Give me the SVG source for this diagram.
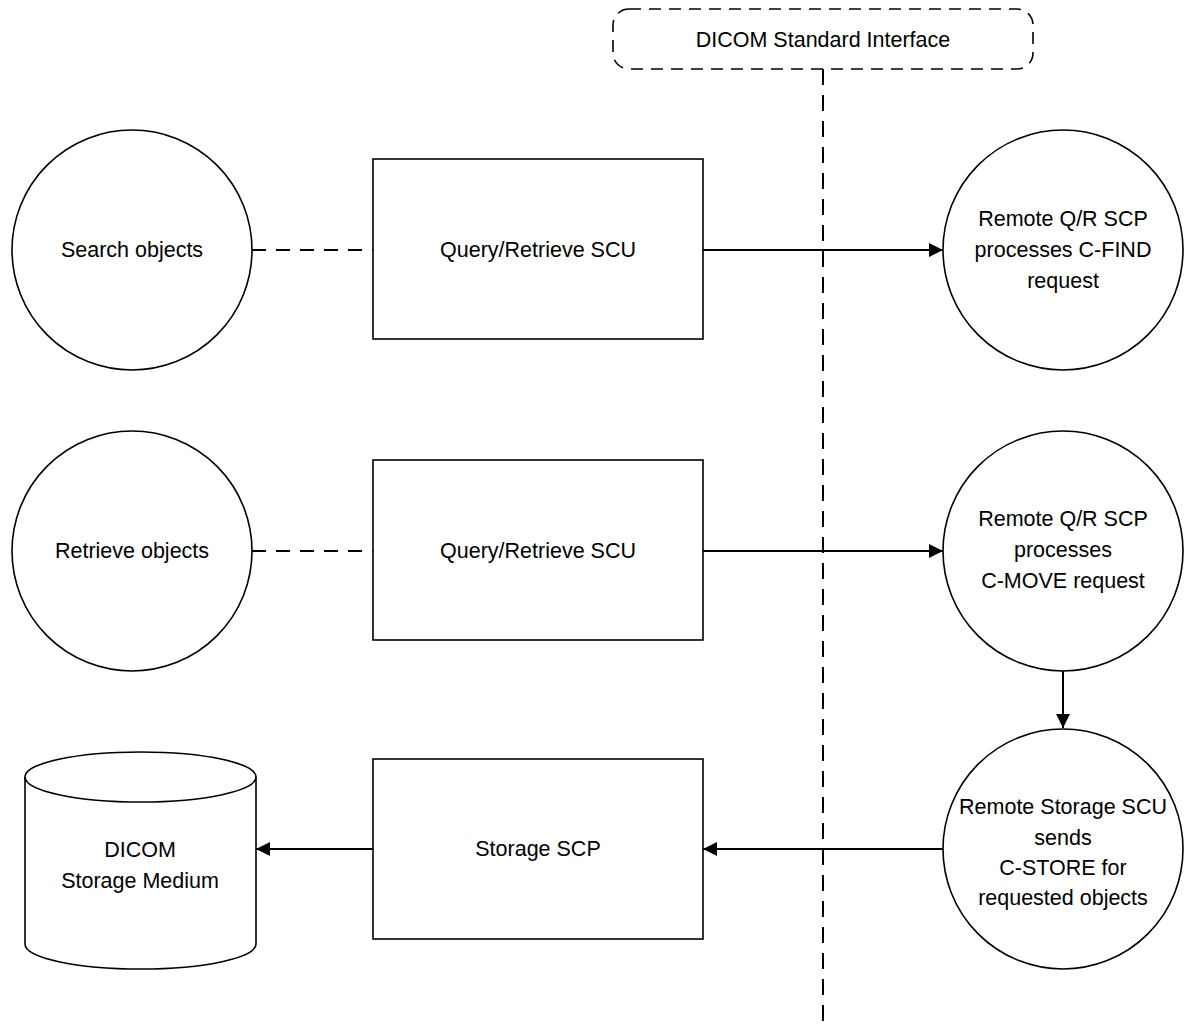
<svg xmlns="http://www.w3.org/2000/svg" width="1184" height="1027" viewBox="0 0 1184 1027">
<defs>
<marker id="arr" viewBox="0 0 10 10" refX="10" refY="5" markerWidth="7" markerHeight="7" markerUnits="strokeWidth" orient="auto">
<path d="M0,0 L10,5 L0,10 Z" fill="#000"/>
</marker>
<style>
.shape{fill:#fff;stroke:#000;stroke-width:1.6}
.t{font-family:"Liberation Sans",Arial,sans-serif;font-size:21.5px;fill:#000;text-anchor:middle;dominant-baseline:central}
.dash{fill:none;stroke:#000;stroke-width:2;stroke-dasharray:14,10}
.conn{fill:none;stroke:#000;stroke-width:2}
</style>
</defs>
<rect width="1184" height="1027" fill="#fff"/>
<g id="interface">
<rect x="613" y="9" width="420" height="60" rx="16" ry="16" fill="#fff" stroke="#000" stroke-width="1.6" stroke-dasharray="12,8"/>
<text class="t" x="823" y="40">DICOM Standard Interface</text>
</g>
<g id="connectors">
<line x1="823" y1="69" x2="823" y2="1027" stroke="#000" stroke-width="2" stroke-dasharray="16,10"/>
<line class="dash" x1="252" y1="250" x2="373" y2="250"/>
<line class="dash" x1="252" y1="551" x2="373" y2="551"/>
<line class="conn" x1="703" y1="250" x2="943" y2="250" marker-end="url(#arr)"/>
<line class="conn" x1="703" y1="551" x2="943" y2="551" marker-end="url(#arr)"/>
<line class="conn" x1="1063" y1="670" x2="1063" y2="728" marker-end="url(#arr)"/>
<line class="conn" x1="943" y1="849" x2="703" y2="849" marker-end="url(#arr)"/>
<line class="conn" x1="373" y1="849" x2="256" y2="849" marker-end="url(#arr)"/>
</g>
<g id="search">
<circle class="shape" cx="132" cy="250" r="120"/>
<text class="t" x="132" y="250">Search objects</text>
</g>
<g id="qr1">
<rect class="shape" x="373" y="159" width="330" height="180"/>
<text class="t" x="538" y="250">Query/Retrieve SCU</text>
</g>
<g id="cfind">
<circle class="shape" cx="1063" cy="250" r="120"/>
<text class="t" x="1063" y="219">Remote Q/R SCP</text>
<text class="t" x="1063" y="250">processes C-FIND</text>
<text class="t" x="1063" y="281">request</text>
</g>
<g id="retrieve">
<circle class="shape" cx="132" cy="551" r="120"/>
<text class="t" x="132" y="551">Retrieve objects</text>
</g>
<g id="qr2">
<rect class="shape" x="373" y="460" width="330" height="180"/>
<text class="t" x="538" y="551">Query/Retrieve SCU</text>
</g>
<g id="cmove">
<circle class="shape" cx="1063" cy="551" r="120"/>
<text class="t" x="1063" y="519">Remote Q/R SCP</text>
<text class="t" x="1063" y="550">processes</text>
<text class="t" x="1063" y="581">C-MOVE request</text>
</g>
<g id="cstore">
<circle class="shape" cx="1063" cy="849" r="120"/>
<text class="t" x="1063" y="807">Remote Storage SCU</text>
<text class="t" x="1063" y="838">sends</text>
<text class="t" x="1063" y="868">C-STORE for</text>
<text class="t" x="1063" y="898">requested objects</text>
</g>
<g id="storage">
<rect class="shape" x="373" y="759" width="330" height="180"/>
<text class="t" x="538" y="849">Storage SCP</text>
</g>
<g id="medium">
<path class="shape" d="M25,777 L25,944 A115.5,25 0 0 0 256,944 L256,777 A115.5,25 0 0 0 25,777 Z"/>
<path d="M25,777 A115.5,25 0 0 0 256,777" fill="none" stroke="#000" stroke-width="1.6"/>
<text class="t" x="140" y="850">DICOM</text>
<text class="t" x="140" y="881">Storage Medium</text>
</g>
</svg>
